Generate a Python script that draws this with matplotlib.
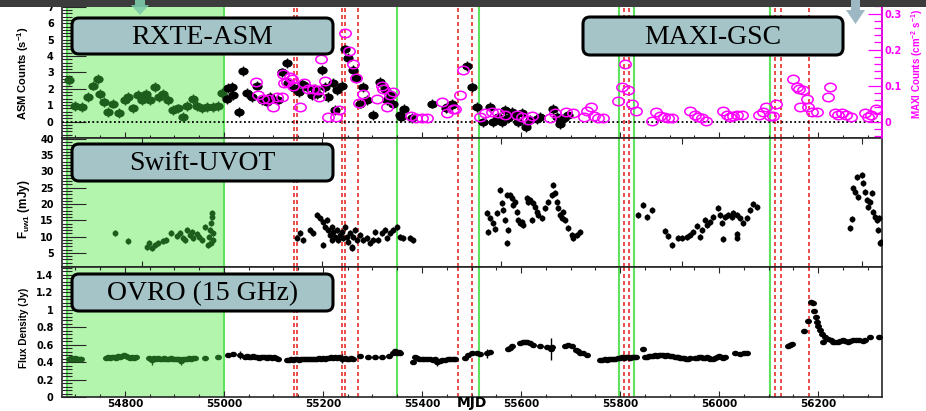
import numpy as np
import matplotlib
matplotlib.use('Agg')
import matplotlib.pyplot as plt
from matplotlib.ticker import MultipleLocator, FixedLocator, FuncFormatter, NullLocator
from matplotlib.patches import FancyBboxPatch, Rectangle, Polygon
from matplotlib.path import Path
from matplotlib.transforms import Affine2D
from matplotlib import font_manager as fm

# ---------------- data ----------------
# RXTE-ASM count rate (s^-1)
asm_mjd = [54687, 54699, 54713, 54725, 54735, 54745, 54750, 54758, 54766, 54776,
           54788, 54800, 54806, 54816, 54826, 54834, 54842, 54851, 54861, 54869,
           54877, 54887, 54897, 54907, 54917, 54925, 54937, 54945, 54956, 54966,
           54978, 54988, 54996,
           55006, 55008, 55016, 55018, 55030, 55038, 55046, 55056, 55066, 55076,
           55086, 55094, 55109, 55117, 55127, 55129, 55141, 55152, 55157, 55167,
           55178, 55184, 55188, 55198, 55204, 55210, 55220, 55224, 55228, 55238,
           55245, 55251, 55261, 55267, 55275, 55281, 55289, 55301, 55315, 55325,
           55329, 55337, 55342, 55356, 55358, 55364, 55380, 55420, 55448, 55451,
           55460, 55461, 55491, 55501, 55511, 55523, 55537, 55543, 55554, 55562,
           55568, 55574, 55582, 55588, 55594, 55602, 55610, 55618, 55632, 55638,
           55665, 55673, 55679, 55687, 55695]
asm_rate = [2.54, 0.95, 0.9, 1.5, 2.2, 2.6, 1.7, 1.2, 0.6, 1.1,
            0.5, 1.3, 1.5, 0.8, 1.6, 1.3, 1.7, 1.3, 2.1, 1.5,
            1.7, 1.3, 0.7, 0.8, 0.3, 0.95, 1.4, 0.95, 0.8, 0.9,
            0.9, 0.95, 1.75,
            1.4, 2.05, 2.1, 1.6, 0.6, 3.1, 1.75, 1.5, 2.2, 1.3,
            1.2, 1.5, 1.3, 3.0, 3.6, 2.35, 2.05, 1.8, 2.3, 2.1,
            1.6, 2.0, 1.7, 3.15, 2.1, 1.5, 2.35, 0.7, 1.9, 2.2,
            4.4, 3.9, 3.15, 2.65, 1.1, 2.1, 1.3, 0.4, 2.4, 2.0,
            1.3, 1.6, 1.1, 0.4, 0.3, 0.75, 0.2, 1.1, 0.8, 0.9,
            1.1, 1.0, 3.4, 2.1, 0.9, -0.05, 0.9, 0.0, 0.3, 0.0,
            0.7, 0.2, 0.6, 0.4, 0.0, 0.5, -0.35, 0.1, 0.15, 0.3,
            0.75, 0.3, -0.15, 0.2, 0.4]

# MAXI-GSC count rate (cm^-2 s^-1)
maxi_mjd = [55065, 55069, 55079, 55089, 55099, 55107, 55117, 55119, 55121, 55127,
            55133, 55137, 55139, 55154, 55162, 55170, 55180, 55190, 55192, 55196,
            55204, 55210, 55226, 55232, 55245, 55253, 55261, 55267, 55273, 55281,
            55309, 55319, 55321, 55329, 55335, 55341, 55378, 55388, 55400, 55410,
            55440, 55450, 55463, 55467, 55477, 55483, 55517, 55527, 55541, 55554,
            55568, 55592, 55602, 55614, 55622, 55659, 55669, 55691, 55705, 55727,
            55733, 55741, 55747, 55755, 55765, 55796, 55804, 55810, 55816, 55824,
            55832, 55865, 55873, 55881, 55889, 55897, 55905, 55941, 55952, 55958,
            55966, 55974, 56008, 56016, 56022, 56028, 56036, 56046, 56081, 56089,
            56095, 56103, 56109, 56115, 56150, 56158, 56162, 56164, 56170, 56178,
            56180, 56188, 56198, 56220, 56224, 56234, 56240, 56249, 56257, 56267,
            56295, 56301, 56307, 56317]
maxi_rate = [0.109, 0.073, 0.064, 0.064, 0.041, 0.068, 0.068, 0.132, 0.107, 0.109,
             0.123, 0.118, 0.100, 0.041, 0.107, 0.091, 0.091, 0.087, 0.068, 0.173,
             0.114, 0.014, 0.014, 0.032, 0.246, 0.196, 0.159, 0.121, 0.052, 0.077,
             0.064, 0.100, 0.091, 0.041, 0.073, 0.082, 0.016, 0.009, 0.009, 0.009,
             0.055, 0.023, 0.036, 0.036, 0.073, 0.144, 0.014, 0.023, 0.027, 0.023,
             0.018, 0.018, 0.014, 0.005, 0.016, 0.009, 0.023, 0.027, 0.023, 0.014,
             0.030, 0.041, 0.016, 0.009, 0.009, 0.057, 0.096, 0.159, 0.087, 0.050,
             0.030, 0.002, 0.027, 0.016, 0.014, 0.009, 0.009, 0.030, 0.018, 0.014,
             0.009, 0.002, 0.030, 0.018, 0.014, 0.016, 0.018, 0.018, 0.018, 0.027,
             0.041, 0.016, 0.016, 0.050, 0.118, 0.096, 0.091, 0.041, 0.087, 0.064,
             0.041, 0.027, 0.027, 0.068, 0.096, 0.023, 0.018, 0.023, 0.018, 0.014,
             0.023, 0.014, 0.018, 0.036]

# Swift-UVOT uvw1 flux density (mJy)
uvot_mjd = [54780, 54806, 54844, 54848, 54854, 54860, 54866, 54877, 54884, 54893,
            54905, 54911, 54917, 54921, 54925, 54931, 54935, 54937, 54945, 54949,
            54956, 54962, 54968, 54970, 54972, 54973, 54974, 54975, 54976, 54977,
            54978,
            55147, 55154, 55160, 55174, 55180, 55188, 55194, 55200, 55200, 55204,
            55208, 55210, 55214, 55218, 55218, 55220, 55224, 55228, 55230, 55234,
            55238, 55240, 55244, 55248, 55250, 55254, 55258, 55258, 55261, 55265,
            55269, 55275, 55281, 55289, 55295, 55301, 55305, 55311, 55319, 55325,
            55329, 55335, 55341, 55349, 55356, 55362, 55376, 55382,
            55531, 55533, 55537, 55543, 55547, 55551, 55558, 55562, 55564, 55568,
            55572, 55572, 55574, 55578, 55582, 55584, 55588, 55592, 55594, 55598,
            55602, 55604, 55612, 55614, 55618, 55622, 55624, 55628, 55632, 55634,
            55642, 55648, 55654, 55663, 55665, 55669, 55673, 55675, 55679, 55683,
            55685, 55689, 55695, 55703, 55705, 55713, 55719,
            55836, 55846, 55854, 55865, 55891, 55897, 55905, 55917, 55925, 55935,
            55941, 55947, 55955, 55962, 55966, 55972, 55976, 55982, 55988, 55998,
            56002, 56006, 56008, 56012, 56018, 56026, 56028, 56036, 56036, 56036,
            56042, 56048, 56057, 56063, 56069, 56077,
            56265, 56269, 56271, 56275, 56279, 56281, 56289, 56291, 56295, 56299,
            56301, 56305, 56309, 56311, 56315, 56319, 56321, 56323, 56325, 56326]
uvot_flux = [11.1, 8.6, 6.8, 8.0, 6.5, 7.4, 8.0, 8.6, 8.9, 11.1,
             10.2, 11.1, 9.6, 9.0, 12.0, 10.5, 11.4, 9.6, 10.8, 9.9,
             9.0, 13.0, 7.4, 9.9, 12.1, 8.1, 14.2, 16.0, 17.3, 11.1,
             9.0,
             9.5, 11.1, 9.0, 12.1, 11.1, 16.7, 15.8, 14.5, 7.5, 13.0,
             15.2, 12.1, 10.5, 13.0, 9.0, 11.4, 9.9, 12.1, 9.0, 10.5,
             11.4, 9.6, 13.0, 9.9, 8.4, 11.1, 6.8, 6.5, 9.9, 12.1,
             9.0, 10.5, 9.0, 9.6, 8.1, 9.0, 11.4, 9.0, 11.1, 12.1,
             9.6, 11.1, 12.1, 13.0, 9.9, 9.6, 9.6, 9.0,
             17.3, 11.5, 15.7, 14.2, 12.4, 17.3, 24.3, 20.3, 18.1, 15.1,
             22.8, 8.1, 12.1, 22.8, 21.8, 19.8, 20.6, 17.6, 15.1, 14.2,
             14.5, 13.6, 21.8, 20.6, 21.2, 15.1, 20.3, 19.1, 17.6, 16.7,
             15.8, 18.8, 20.6, 22.8, 25.9, 23.3, 20.6, 18.8, 16.7, 15.8,
             17.6, 15.1, 12.7, 10.5, 9.6, 10.5, 11.4,
             16.7, 19.8, 16.1, 18.1, 11.8, 10.3, 7.5, 9.6, 9.6, 9.9,
             10.5, 11.4, 13.2, 9.9, 12.1, 15.1, 13.6, 14.5, 16.1, 18.8,
             16.7, 14.2, 9.3, 16.1, 16.7, 16.1, 17.3, 16.7, 10.8, 9.6,
             15.8, 14.2, 15.8, 18.1, 20.0, 19.1,
             12.7, 15.4, 24.9, 23.6, 28.3, 22.1, 29.0, 26.5, 23.6, 21.2,
             19.1, 20.6, 23.3, 17.5, 16.1, 15.1, 12.1, 15.8, 8.1, 8.4]

# OVRO 15 GHz flux density (Jy)
ovro_mjd = [54688, 54691, 54694, 54697, 54700, 54703, 54706, 54709, 54712,
            54762, 54766, 54770, 54774, 54778, 54782, 54786, 54790, 54794, 54798,
            54802, 54806, 54810, 54814, 54818, 54822,
            54848, 54852, 54855, 54858, 54862, 54866, 54870, 54874, 54878, 54882,
            54886, 54890, 54894, 54898, 54902, 54906, 54910, 54914, 54918, 54922,
            54926, 54930, 54934, 54938, 54942, 54962, 54988,
            55008, 55018, 55032, 55042, 55046, 55050, 55054, 55058, 55062, 55066,
            55070, 55074, 55078, 55082, 55086, 55090, 55094, 55098, 55102, 55106,
            55110,
            55128, 55132, 55136, 55140, 55144, 55148, 55152, 55156, 55160, 55164,
            55168, 55172, 55176, 55180, 55184, 55188, 55192, 55196, 55200, 55204,
            55208, 55212, 55216, 55220, 55224, 55228, 55232, 55238, 55244, 55248,
            55252, 55256, 55260,
            55275, 55291, 55305, 55319, 55333, 55341, 55345, 55349, 55353, 55356,
            55382, 55386, 55390, 55394, 55400, 55405, 55410, 55416, 55422, 55426,
            55430, 55436, 55440, 55446, 55452, 55457, 55462, 55467,
            55487, 55493, 55501, 55511, 55517, 55531, 55537,
            55574, 55578, 55582, 55598, 55603, 55608, 55613, 55618, 55624, 55638,
            55652, 55661, 55663, 55689, 55694, 55703, 55711, 55715, 55720, 55725,
            55733,
            55760, 55764, 55770, 55774, 55778, 55782, 55786, 55790, 55796, 55800,
            55804, 55808, 55812, 55816, 55820, 55824, 55828, 55832, 55846,
            55850, 55854, 55858, 55862, 55866, 55870, 55874, 55878, 55882, 55886,
            55890, 55895, 55901, 55905, 55910, 55914, 55918, 55922, 55926, 55930,
            55934, 55938, 55941, 55951, 55955, 55959, 55963, 55967, 55971, 55975,
            55979, 55982, 55988, 55992, 55996, 56000, 56004, 56008, 56012,
            56032, 56042, 56050, 56057,
            56139, 56143, 56147,
            56172, 56180, 56186, 56190, 56192, 56196, 56198, 56200, 56204, 56208,
            56210, 56214, 56220, 56225, 56230, 56235, 56240, 56245, 56250, 56255,
            56260, 56265, 56271, 56277, 56283, 56290, 56295, 56305, 56323]
ovro_flux = [0.44, 0.45, 0.43, 0.44, 0.45, 0.44, 0.43, 0.44, 0.44,
             0.45, 0.46, 0.45, 0.46, 0.46, 0.45, 0.47, 0.46, 0.47, 0.48,
             0.47, 0.46, 0.45, 0.46, 0.45, 0.46,
             0.45, 0.44, 0.42, 0.45, 0.44, 0.45, 0.43, 0.44, 0.45, 0.44,
             0.43, 0.44, 0.45, 0.43, 0.44, 0.43, 0.44, 0.41, 0.43, 0.44,
             0.44, 0.45, 0.44, 0.45, 0.45, 0.445, 0.455,
             0.48, 0.49, 0.48, 0.46, 0.47, 0.46, 0.46, 0.47, 0.46, 0.46,
             0.45, 0.46, 0.46, 0.46, 0.45, 0.46, 0.46, 0.45, 0.46, 0.45,
             0.44,
             0.42, 0.42, 0.43, 0.42, 0.43, 0.43, 0.42, 0.43, 0.43, 0.43,
             0.44, 0.43, 0.44, 0.44, 0.44, 0.44, 0.45, 0.44, 0.45, 0.44,
             0.45, 0.45, 0.46, 0.45, 0.46, 0.45, 0.46, 0.44, 0.45, 0.44,
             0.44, 0.45, 0.44,
             0.47, 0.455, 0.455, 0.455, 0.47, 0.51, 0.53, 0.50, 0.52, 0.51,
             0.40, 0.46, 0.45, 0.44, 0.44, 0.44, 0.44, 0.43, 0.42, 0.43,
             0.40, 0.41, 0.42, 0.42, 0.43, 0.43, 0.43, 0.43,
             0.445, 0.48, 0.50, 0.50, 0.49, 0.50, 0.52,
             0.55, 0.56, 0.58, 0.62, 0.63, 0.635, 0.63, 0.62, 0.60, 0.58,
             0.57, 0.55, 0.57, 0.59, 0.60, 0.58, 0.54, 0.53, 0.51, 0.50,
             0.48,
             0.42, 0.42, 0.43, 0.42, 0.43, 0.44, 0.43, 0.44, 0.445, 0.45,
             0.46, 0.45, 0.46, 0.46, 0.45, 0.46, 0.46, 0.46, 0.55,
             0.46, 0.46, 0.47, 0.47, 0.47, 0.48, 0.47, 0.48, 0.48, 0.48,
             0.47, 0.48, 0.47, 0.47, 0.46, 0.46, 0.46, 0.45, 0.45, 0.45,
             0.44, 0.44, 0.45, 0.45, 0.45, 0.46, 0.46, 0.45, 0.45, 0.46,
             0.45, 0.44, 0.44, 0.45, 0.46, 0.47, 0.46, 0.45, 0.46,
             0.50, 0.49, 0.50, 0.51,
             0.59, 0.60, 0.61,
             0.755, 0.87, 1.09, 1.08, 0.98, 0.92, 0.86, 0.81, 0.77, 0.72,
             0.63, 0.69, 0.66, 0.65, 0.63, 0.63, 0.63, 0.64, 0.65, 0.64,
             0.63, 0.64, 0.65, 0.65, 0.65, 0.64, 0.65, 0.69, 0.69]
# OVRO points with visibly large error bars
ovro_err_mjd = [54855, 54914, 55032, 55238, 55430, 55531, 55661]
ovro_err_flux = [0.42, 0.41, 0.48, 0.44, 0.40, 0.50, 0.55]
ovro_err = [0.05, 0.04, 0.05, 0.05, 0.04, 0.05, 0.13]

shade_span = (54683, 55000)
green_lines = [54683, 55000, 55349, 55515, 55798, 55828, 56103]
red_lines = [55142, 55147, 55239, 55244, 55271, 55473, 55501,
             55808, 55819, 56113, 56125, 56182]
uvot_ticks = [54834, 55198, 55560, 55925, 56289]
panel_labels = ['RXTE-ASM', 'MAXI-GSC', 'Swift-UVOT', 'OVRO (15 GHz)']

# ---------------- style ----------------
SHADE = '#b3f5ac'
GREEN = '#5fe35f'
RED = '#e8302c'
DKGREEN = '#1d5e1d'
MAGENTA = '#ff00ff'
BOXFC = '#a4c4c8'
plt.rcParams['font.family'] = ['DejaVu Sans']
plt.rcParams['font.weight'] = 'bold'


def has_font(name):
    try:
        fm.findfont(fm.FontProperties(family=name), fallback_to_default=False)
        return True
    except ValueError:
        return False


NARROW = 'Liberation Sans Narrow' if has_font('Liberation Sans Narrow') else 'Liberation Sans'

W, H = 926, 411
fig = plt.figure(figsize=(W / 100, H / 100), dpi=100)


def px_axes(x0, y0, x1, y1, **kw):
    return fig.add_axes([x0 / W, 1 - y1 / H, (x1 - x0) / W, (y1 - y0) / H], **kw)


def ftxt(x, y, s, **kw):
    fig.text(x / W, 1 - y / H, s, **kw)


gfmt = FuncFormatter(lambda v, p: f'{v:g}')
ellipse = Path.unit_circle().transformed(Affine2D().scale(1.35, 1.0))


def decorate(ax):
    ax.set_xlim(54673, 56329)
    ax.axvspan(*shade_span, color=SHADE, lw=0, zorder=0)
    for m in green_lines:
        ax.axvline(m, color=GREEN, lw=1.5, zorder=1)
    for m in red_lines:
        ax.axvline(m, color=RED, lw=1.2, ls=(0, (2.4, 1.8)), zorder=1)
    for s in ax.spines.values():
        s.set_linewidth(1.2)
        s.set_color('#262626')
    ax.tick_params(axis='both', which='both', direction='in', right=False,
                   top=True, width=0.8, color='#262626')
    ax.tick_params(axis='y', which='major', length=17, pad=6, labelsize=7)
    ax.tick_params(axis='y', which='minor', length=7)
    ax.tick_params(axis='x', which='major', length=4, pad=1.5, labelsize=7.5)
    ax.tick_params(axis='x', which='minor', length=2.5)
    ax.yaxis.set_major_formatter(gfmt)


ax1 = px_axes(62, 0, 882, 138)
ax2 = px_axes(62, 138, 882, 267)
ax3 = px_axes(62, 267, 882, 397)
for ax in (ax1, ax2, ax3):
    decorate(ax)

# ---- top panel: ASM + MAXI ----
x = np.array(asm_mjd)
y = np.array(asm_rate)
for sel, col in ((x < 55000, DKGREEN), (x >= 55000, 'black')):
    ax1.errorbar(x[sel], y[sel], yerr=0.3, fmt='none', ecolor=col, elinewidth=1, zorder=3)
    ax1.plot(x[sel], y[sel], ls='none', marker=ellipse, ms=6.4, color=col, zorder=4)
ax1.axhline(0, color='black', lw=1.3, ls=(0, (1, 1.4)), zorder=2)
ax1.set_ylim(-1, 7.42)
ax1.yaxis.set_major_locator(MultipleLocator(1))
ax1.yaxis.set_minor_locator(MultipleLocator(0.2))
# the -1 label is hidden behind the "40" of the panel below
ax1.yaxis.set_major_formatter(FuncFormatter(lambda v, p: f'{v:g}' if v > -0.5 else ''))
ax1.xaxis.set_major_locator(MultipleLocator(200))
ax1.xaxis.set_minor_locator(MultipleLocator(50))
ax1.tick_params(labelbottom=False)

ax1r = ax1.twinx()
ax1r.plot(maxi_mjd, maxi_rate, ls='none', marker=ellipse, ms=8.2, mfc='none',
          mec=MAGENTA, mew=1.1, zorder=5)
ax1r.set_ylim(-1 / 21.95, 7.42 / 21.95)
ax1r.yaxis.set_major_locator(MultipleLocator(0.1))
ax1r.yaxis.set_minor_locator(MultipleLocator(0.02))
ax1r.yaxis.set_major_formatter(gfmt)
ax1r.tick_params(axis='y', which='both', direction='in', colors=MAGENTA,
                 labelsize=7, pad=2, width=0.9)
ax1r.tick_params(axis='y', which='major', length=10)
ax1r.tick_params(axis='y', which='minor', length=5.5)
for side in ('left', 'top', 'bottom'):
    ax1r.spines[side].set_visible(False)
ax1r.spines['right'].set_color(MAGENTA)
ax1r.spines['right'].set_linewidth(1.2)

# ---- middle panel: UVOT ----
x = np.array(uvot_mjd)
y = np.array(uvot_flux)
for sel, col in ((x < 55000, DKGREEN), (x >= 55000, 'black')):
    ax2.errorbar(x[sel], y[sel], yerr=0.9, xerr=2.5, fmt='o', ms=3.2, color=col,
                 elinewidth=0.8, capsize=0, zorder=3)
ax2.set_ylim(0.7, 40.25)
ax2.yaxis.set_major_locator(MultipleLocator(5))
ax2.yaxis.set_minor_locator(MultipleLocator(1))
ax2.yaxis.set_major_formatter(FuncFormatter(lambda v, p: f'{v:g}' if v > 1 else ''))
ax2.xaxis.set_major_locator(FixedLocator(uvot_ticks))
ax2.xaxis.set_minor_locator(NullLocator())
ax2.tick_params(labelbottom=False)

# ---- bottom panel: OVRO ----
x = np.array(ovro_mjd)
y = np.array(ovro_flux)
for sel, col in ((x < 55000, DKGREEN), (x >= 55000, 'black')):
    ax3.plot(x[sel], y[sel], ls='none', marker=ellipse, ms=4.0, color=col, zorder=3)
ex = np.array(ovro_err_mjd)
ax3.errorbar(ex, ovro_err_flux, yerr=ovro_err, fmt='none',
             ecolor=[DKGREEN if m < 55000 else 'black' for m in ex],
             elinewidth=1, zorder=3)
ax3.set_ylim(0, 1.49)
ax3.yaxis.set_major_locator(MultipleLocator(0.2))
ax3.yaxis.set_minor_locator(MultipleLocator(0.04))
ax3.xaxis.set_major_locator(MultipleLocator(200))
ax3.xaxis.set_minor_locator(MultipleLocator(50))
ax3.xaxis.set_major_formatter(FuncFormatter(lambda v, p: f'{int(round(v))}'))

# ---- axis titles ----
lab = dict(rotation=90, ha='center', va='center', family=NARROW, weight='bold')
ftxt(23, 73, r'ASM Counts (s$^{\mathregular{-1}}$)', fontsize=8, **lab)
ftxt(24, 209, r'F$_{\mathregular{uw1}}$ (mJy)', fontsize=8.5, **lab)
ftxt(24, 328, 'Flux Density (Jy)', fontsize=7.2, **lab)
ftxt(917, 64, r'MAXI Counts (cm$^{\mathregular{-2}}$ s$^{\mathregular{-1}}$)',
     color=MAGENTA, fontsize=7, **lab)
ftxt(472, 410, 'MJD', ha='center', va='bottom', fontsize=10, weight='bold')

# ---- slide decorations: dark strip, arrows and label boxes ----
ov = fig.add_axes([0, 0, 1, 1], zorder=10)
ov.set_xlim(0, W)
ov.set_ylim(H, 0)
ov.axis('off')
ov.add_patch(Rectangle((0, 0), W, 7, fc='#3c3c3c', ec='none'))
ov.add_patch(Polygon([(135, 0), (145, 0), (145, 5), (149, 5), (140, 15), (131, 5), (135, 5)],
                     closed=True, fc='#7cccaa', ec='none', alpha=0.9))
ov.add_patch(Polygon([(851, 0), (860, 0), (860, 10), (865, 10), (855.5, 24), (846, 10), (851, 10)],
                     closed=True, fc='#9db8c2', ec='none'))
boxes = [(72, 18, 333, 54), (583, 17, 843, 55), (72, 144, 333, 181), (72, 274, 333, 311)]
for (x0, y0, x1, y1), text in zip(boxes, panel_labels):
    ov.add_patch(FancyBboxPatch((x0, y0), x1 - x0, y1 - y0,
                                boxstyle='round,pad=0,rounding_size=7',
                                fc=BOXFC, ec='black', lw=2.2))
    ov.text((x0 + x1) / 2, (y0 + y1) / 2 + 1, text, ha='center', va='center',
            family='Liberation Serif', weight='normal', fontsize=20)

fig.savefig('out.png', dpi=100)
